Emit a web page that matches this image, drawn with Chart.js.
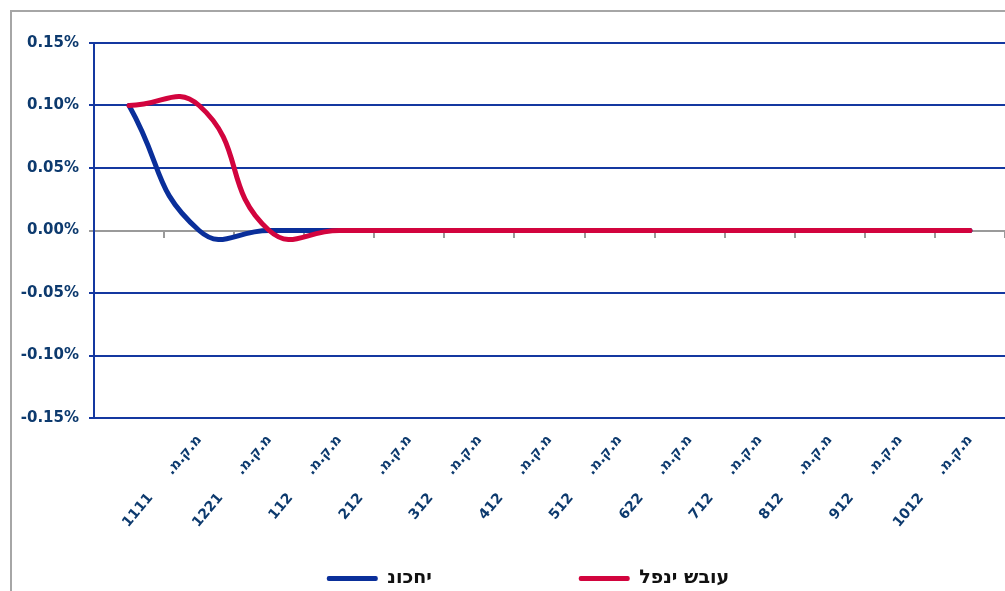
<!DOCTYPE html>
<html>
<head>
<meta charset="utf-8">
<script src="https://cdn.jsdelivr.net/npm/chart.js@4.4.1/dist/chart.umd.min.js"></script>
<style>
html,body{margin:0;padding:0;background:#fff;}
#wrap{width:1005px;height:591px;position:relative;overflow:hidden;}
</style>
</head>
<body>
<div id="wrap"><canvas id="c" width="1005" height="591"></canvas></div>
<script>
// ---- data ----
const labelPrefix = 'מ.ק.מ.';
const seriesCodes = ['', '1111', '1221', '112', '212', '312', '412', '512', '622', '712', '812', '912', '1012'];
const currentValues = [0.10, 0.00, 0.00, 0.00, 0.00, 0.00, 0.00, 0.00, 0.00, 0.00, 0.00, 0.00, 0.00];
const weekAgoValues = [0.10, 0.10, 0.00, 0.00, 0.00, 0.00, 0.00, 0.00, 0.00, 0.00, 0.00, 0.00, 0.00];
const seriesNames = ['נוכחי', 'לפני שבוע'];
const yTicks = [-0.15, -0.10, -0.05, 0.00, 0.05, 0.10, 0.15];

// ---- styles ----
const NAVY = '#0d3a6e';
const BLUE = '#0a2f9a';
const RED = '#d2043e';
const GRID = '#1438a0';
const GRAY = '#9a9a9a';
const FONT = "'DejaVu Sans', Verdana, sans-serif";
const LEGEND_FONT = "'DejaVu Sans', sans-serif";
const LEGEND_SIZE = 19;

const categories = seriesCodes.map(c => c === '' ? '' : labelPrefix + '      ' + c);

const frame = {
  id: 'frame',
  beforeDraw(chart) {
    const ctx = chart.ctx;
    ctx.save();
    ctx.strokeStyle = '#a6a6a6';
    ctx.lineWidth = 2;
    ctx.beginPath();
    ctx.moveTo(11, 591);
    ctx.lineTo(11, 11);
    ctx.lineTo(1005, 11);
    ctx.stroke();
    ctx.restore();
  }
};

// nudge the legend box horizontally (Excel centred it under a wider area)
const legendShift = {
  id: 'legendShift',
  afterLayout(chart) {
    if (chart.legend) { chart.legend.left += 17; chart.legend.right += 17; }
  }
};

function padText(ctx, text, target) {
  ctx.save();
  ctx.font = 'bold ' + LEGEND_SIZE + 'px ' + LEGEND_FONT;
  let t = text;
  while (ctx.measureText(t + ' ').width <= target) t += ' ';
  ctx.restore();
  return t;
}

new Chart(document.getElementById('c'), {
  type: 'line',
  data: {
    labels: categories,
    datasets: [
      { label: seriesNames[0], data: currentValues, borderColor: BLUE, backgroundColor: BLUE, order: 1 },
      { label: seriesNames[1], data: weekAgoValues, borderColor: RED, backgroundColor: RED, order: 0 }
    ]
  },
  options: {
    responsive: false,
    animation: false,
    layout: { padding: { left: 14, right: -3, top: 43, bottom: -7 } },
    elements: {
      line: { borderWidth: 5, tension: 0.5, borderCapStyle: 'round', borderJoinStyle: 'round' },
      point: { radius: 0, hoverRadius: 0 }
    },
    plugins: {
      tooltip: { enabled: false },
      legend: {
        position: 'bottom',
        labels: {
          boxWidth: 51,
          boxHeight: 5,
          padding: 8,
          useBorderRadius: true,
          borderRadius: 2,
          color: '#111',
          font: { family: LEGEND_FONT, size: LEGEND_SIZE, weight: 'bold' },
          generateLabels(chart) {
            const items = Chart.defaults.plugins.legend.labels.generateLabels(chart);
            items.sort((a, b) => a.datasetIndex - b.datasetIndex);
            items.forEach((it, i) => {
              it.lineWidth = 0;
              it.strokeStyle = 'transparent';
              it.fillStyle = chart.data.datasets[it.datasetIndex].borderColor;
              it.text = '\u202D' + it.text + '\u202C';
              if (i === 0) it.text = padText(chart.ctx, it.text, 189);
            });
            return items;
          }
        }
      }
    },
    scales: {
      x: {
        type: 'category',
        offset: true,
        grid: { display: false },
        border: { display: false },
        ticks: {
          autoSkip: false,
          minRotation: 50,
          maxRotation: 50,
          padding: 6,
          color: NAVY,
          font: { family: FONT, size: 14, weight: 'bold' }
        },
        afterFit(scale) {
          const lh = scale.chart.legend ? scale.chart.legend.height : 30;
          scale.height = 598 - 418 - lh;
        }
      },
      x2: {
        type: 'category',
        labels: categories,
        offset: true,
        position: { y: 0 },
        ticks: { display: false },
        grid: { drawOnChartArea: false, offset: true, tickLength: 6, color: GRAY, lineWidth: 2 },
        border: { display: true, color: GRAY, width: 2 }
      },
      y: {
        min: -0.15,
        max: 0.15,
        afterBuildTicks(scale) { scale.ticks = yTicks.map(v => ({ value: v })); },
        ticks: {
          padding: 10,
          color: NAVY,
          font: { family: FONT, size: 15, weight: 'bold' },
          callback: v => v.toFixed(2) + '%'
        },
        grid: {
          color: c => (c.tick && Math.abs(c.tick.value) < 1e-9) ? GRAY : GRID,
          lineWidth: 2,
          tickLength: 5
        },
        border: { display: true, color: GRID, width: 2 },
        afterFit(scale) { scale.width = 80; }
      }
    }
  },
  plugins: [frame, legendShift]
});
</script>
</body>
</html>
